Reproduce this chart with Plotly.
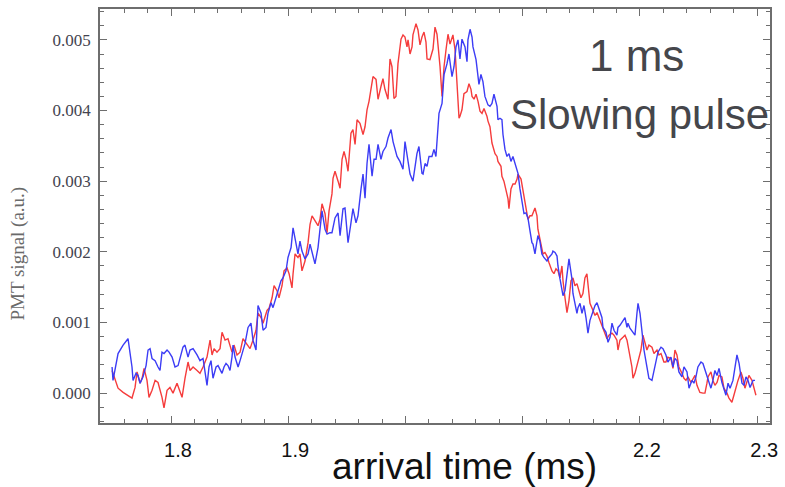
import plotly.graph_objects as go

# ---- data (arrival time in ms, PMT signal in a.u.) ----
blue_time = [1.7497,1.7505,1.7548,1.7591,1.7633,1.7650,1.7667,1.7676,1.7701,1.7718,1.7736,1.7761,1.7787,1.7804,1.7821,1.7838,1.7864,1.7889,1.7906,1.7923,1.7940,1.7966,1.7983,1.8009,1.8034,1.8060,1.8077,1.8102,1.8119,1.8136,1.8145,1.8162,1.8188,1.8222,1.8247,1.8273,1.8307,1.8324,1.8341,1.8358,1.8384,1.8401,1.8435,1.8452,1.8469,1.8486,1.8503,1.8520,1.8529,1.8546,1.8572,1.8589,1.8606,1.8631,1.8657,1.8682,1.8699,1.8725,1.8742,1.8768,1.8785,1.8810,1.8827,1.8853,1.8870,1.8896,1.8913,1.8938,1.8955,1.8981,1.8998,1.9024,1.9041,1.9066,1.9083,1.9100,1.9117,1.9143,1.9169,1.9186,1.9203,1.9228,1.9254,1.9271,1.9288,1.9314,1.9331,1.9356,1.9373,1.9399,1.9425,1.9442,1.9459,1.9467,1.9484,1.9501,1.9510,1.9535,1.9552,1.9578,1.9595,1.9621,1.9638,1.9655,1.9672,1.9689,1.9715,1.9732,1.9749,1.9766,1.9791,1.9808,1.9834,1.9851,1.9877,1.9894,1.9911,1.9928,1.9953,1.9979,1.9996,2.0013,2.0039,2.0064,2.0081,2.0098,2.0115,2.0141,2.0150,2.0167,2.0184,2.0201,2.0226,2.0243,2.0260,2.0277,2.0286,2.0312,2.0329,2.0354,2.0371,2.0397,2.0414,2.0431,2.0448,2.0465,2.0482,2.0508,2.0525,2.0533,2.0551,2.0568,2.0576,2.0602,2.0619,2.0627,2.0644,2.0661,2.0678,2.0704,2.0721,2.0738,2.0755,2.0781,2.0789,2.0806,2.0823,2.0832,2.0849,2.0866,2.0883,2.0900,2.0917,2.0935,2.0952,2.0960,2.0977,2.0994,2.1011,2.1028,2.1045,2.1062,2.1079,2.1088,2.1105,2.1113,2.1130,2.1147,2.1164,2.1181,2.1207,2.1224,2.1250,2.1258,2.1276,2.1293,2.1301,2.1318,2.1335,2.1344,2.1361,2.1378,2.1395,2.1420,2.1429,2.1446,2.1463,2.1472,2.1489,2.1506,2.1523,2.1540,2.1557,2.1574,2.1600,2.1617,2.1634,2.1659,2.1676,2.1685,2.1711,2.1728,2.1745,2.1762,2.1779,2.1804,2.1813,2.1830,2.1856,2.1873,2.1890,2.1898,2.1915,2.1941,2.1958,2.1975,2.1984,2.2001,2.2018,2.2035,2.2060,2.2077,2.2103,2.2120,2.2137,2.2154,2.2180,2.2197,2.2222,2.2239,2.2265,2.2282,2.2299,2.2316,2.2333,2.2359,2.2376,2.2402,2.2419,2.2444,2.2461,2.2478,2.2495,2.2521,2.2538,2.2564,2.2581,2.2606,2.2623,2.2640,2.2658,2.2675,2.2700,2.2717,2.2734,2.2752,2.2769,2.2794,2.2811,2.2828,2.2846,2.2871,2.2888,2.2905,2.2922,2.2940,2.2965,2.2982]
blue_signal = [0.00037,0.00018,0.00056,0.00068,0.00077,0.00056,0.00037,0.00018,0.00028,0.00025,0.00014,0.00023,0.00039,0.00061,0.00063,0.00049,0.00046,0.00037,0.00032,0.00058,0.00056,0.00061,0.00058,0.00051,0.00037,0.00039,0.00051,0.00065,0.00068,0.00056,0.00051,0.00061,0.00063,0.00054,0.00046,0.00049,0.00011,0.00037,0.00046,0.00021,0.00037,0.00039,0.00028,0.00037,0.00042,0.00039,0.00032,0.00051,0.00068,0.00051,0.00037,0.00046,0.00056,0.00070,0.00093,0.00099,0.00075,0.00061,0.00124,0.00113,0.00089,0.00093,0.00113,0.00128,0.00121,0.00135,0.00142,0.00159,0.00163,0.00173,0.00192,0.00206,0.00234,0.00211,0.00197,0.00215,0.00201,0.00190,0.00197,0.00211,0.00201,0.00183,0.00206,0.00237,0.00258,0.00232,0.00225,0.00227,0.00227,0.00248,0.00255,0.00223,0.00254,0.00261,0.00262,0.00232,0.00213,0.00241,0.00261,0.00241,0.00251,0.00289,0.00310,0.00276,0.00325,0.00352,0.00307,0.00331,0.00331,0.00352,0.00331,0.00342,0.00349,0.00361,0.00373,0.00356,0.00345,0.00335,0.00328,0.00317,0.00356,0.00335,0.00310,0.00300,0.00317,0.00339,0.00349,0.00311,0.00310,0.00325,0.00321,0.00335,0.00335,0.00345,0.00335,0.00373,0.00396,0.00410,0.00451,0.00466,0.00480,0.00448,0.00462,0.00490,0.00500,0.00473,0.00501,0.00490,0.00469,0.00500,0.00515,0.00504,0.00490,0.00472,0.00444,0.00437,0.00451,0.00441,0.00420,0.00408,0.00406,0.00410,0.00423,0.00406,0.00387,0.00389,0.00387,0.00366,0.00345,0.00335,0.00339,0.00328,0.00335,0.00324,0.00317,0.00311,0.00289,0.00272,0.00254,0.00255,0.00248,0.00230,0.00213,0.00211,0.00197,0.00206,0.00223,0.00215,0.00197,0.00192,0.00187,0.00192,0.00197,0.00201,0.00199,0.00194,0.00180,0.00162,0.00149,0.00138,0.00145,0.00169,0.00190,0.00162,0.00141,0.00127,0.00113,0.00121,0.00127,0.00113,0.00124,0.00107,0.00085,0.00103,0.00117,0.00124,0.00128,0.00114,0.00107,0.00093,0.00086,0.00072,0.00079,0.00099,0.00089,0.00082,0.00093,0.00096,0.00103,0.00107,0.00093,0.00099,0.00092,0.00085,0.00082,0.00113,0.00127,0.00113,0.00085,0.00061,0.00037,0.00021,0.00018,0.00030,0.00046,0.00058,0.00065,0.00063,0.00054,0.00044,0.00051,0.00037,0.00049,0.00046,0.00030,0.00023,0.00037,0.00030,0.00007,0.00018,0.00014,0.00023,0.00037,0.00044,0.00042,0.00028,0.00018,0.00007,0.00018,0.00032,0.00025,0.00035,0.00015,0.00004,-0.00003,0.00014,0.00007,0.00018,0.00039,0.00054,0.00042,0.00014,0.00011,0.00023,0.00018,0.00008,0.00018,0.00018]

red_time = [1.7497,1.7522,1.7548,1.7591,1.7633,1.7667,1.7693,1.7710,1.7718,1.7736,1.7753,1.7770,1.7795,1.7812,1.7838,1.7864,1.7889,1.7923,1.7940,1.7966,1.7991,1.8017,1.8051,1.8077,1.8094,1.8119,1.8145,1.8162,1.8188,1.8222,1.8247,1.8273,1.8307,1.8333,1.8350,1.8367,1.8392,1.8418,1.8435,1.8461,1.8486,1.8520,1.8537,1.8563,1.8589,1.8614,1.8648,1.8674,1.8699,1.8725,1.8742,1.8768,1.8785,1.8819,1.8836,1.8862,1.8879,1.8904,1.8921,1.8947,1.8964,1.8990,1.9007,1.9032,1.9041,1.9058,1.9083,1.9100,1.9117,1.9143,1.9169,1.9186,1.9203,1.9228,1.9254,1.9271,1.9288,1.9314,1.9331,1.9348,1.9373,1.9382,1.9399,1.9425,1.9442,1.9459,1.9476,1.9493,1.9510,1.9535,1.9552,1.9570,1.9587,1.9612,1.9638,1.9655,1.9672,1.9689,1.9715,1.9723,1.9749,1.9766,1.9791,1.9808,1.9825,1.9851,1.9868,1.9885,1.9902,1.9919,1.9936,1.9962,1.9979,1.9996,2.0013,2.0022,2.0039,2.0056,2.0064,2.0090,2.0107,2.0124,2.0141,2.0158,2.0175,2.0184,2.0209,2.0235,2.0252,2.0269,2.0277,2.0295,2.0312,2.0329,2.0346,2.0363,2.0380,2.0405,2.0423,2.0440,2.0457,2.0465,2.0482,2.0499,2.0525,2.0542,2.0559,2.0568,2.0585,2.0602,2.0619,2.0636,2.0653,2.0670,2.0695,2.0704,2.0721,2.0738,2.0747,2.0764,2.0781,2.0789,2.0815,2.0823,2.0840,2.0858,2.0875,2.0883,2.0900,2.0917,2.0935,2.0952,2.0960,2.0986,2.1003,2.1020,2.1045,2.1062,2.1079,2.1105,2.1122,2.1130,2.1156,2.1173,2.1190,2.1207,2.1224,2.1250,2.1267,2.1284,2.1301,2.1318,2.1335,2.1344,2.1361,2.1378,2.1395,2.1412,2.1429,2.1446,2.1463,2.1480,2.1497,2.1514,2.1531,2.1548,2.1557,2.1574,2.1600,2.1617,2.1634,2.1659,2.1685,2.1702,2.1719,2.1736,2.1762,2.1779,2.1804,2.1813,2.1830,2.1856,2.1873,2.1890,2.1907,2.1932,2.1941,2.1958,2.1975,2.1984,2.2009,2.2026,2.2043,2.2060,2.2077,2.2103,2.2120,2.2146,2.2163,2.2180,2.2205,2.2222,2.2239,2.2265,2.2282,2.2299,2.2316,2.2333,2.2359,2.2376,2.2393,2.2410,2.2436,2.2453,2.2470,2.2487,2.2512,2.2538,2.2555,2.2572,2.2581,2.2606,2.2623,2.2640,2.2658,2.2675,2.2700,2.2717,2.2743,2.2760,2.2785,2.2802,2.2819,2.2837,2.2862,2.2879,2.2896,2.2913,2.2930,2.2956,2.2973,2.2990]
red_signal = [0.00032,0.00018,0.00007,0.00001,-0.00004,-0.00007,0.00008,0.00030,0.00025,0.00014,0.00021,0.00035,0.00018,-0.00006,0.00004,0.00018,0.00015,-0.00006,-0.00021,0.00004,0.00008,0.00000,0.00014,0.00000,-0.00006,0.00021,0.00044,0.00032,0.00037,0.00032,0.00028,0.00037,0.00051,0.00075,0.00054,0.00063,0.00058,0.00063,0.00086,0.00075,0.00077,0.00058,0.00068,0.00054,0.00058,0.00077,0.00068,0.00063,0.00075,0.00089,0.00113,0.00107,0.00099,0.00117,0.00120,0.00135,0.00152,0.00145,0.00135,0.00152,0.00173,0.00177,0.00169,0.00149,0.00169,0.00197,0.00192,0.00197,0.00173,0.00187,0.00213,0.00239,0.00251,0.00244,0.00237,0.00246,0.00268,0.00254,0.00227,0.00258,0.00282,0.00304,0.00314,0.00300,0.00290,0.00331,0.00342,0.00331,0.00314,0.00368,0.00373,0.00352,0.00387,0.00382,0.00366,0.00377,0.00401,0.00413,0.00444,0.00448,0.00444,0.00416,0.00434,0.00445,0.00430,0.00416,0.00473,0.00462,0.00417,0.00420,0.00466,0.00501,0.00507,0.00504,0.00490,0.00500,0.00480,0.00490,0.00507,0.00523,0.00514,0.00493,0.00504,0.00511,0.00497,0.00473,0.00472,0.00487,0.00518,0.00508,0.00494,0.00462,0.00420,0.00462,0.00486,0.00508,0.00494,0.00507,0.00486,0.00438,0.00389,0.00392,0.00401,0.00424,0.00427,0.00438,0.00430,0.00420,0.00416,0.00423,0.00413,0.00399,0.00396,0.00403,0.00392,0.00385,0.00377,0.00354,0.00349,0.00339,0.00335,0.00328,0.00321,0.00307,0.00300,0.00289,0.00275,0.00261,0.00289,0.00296,0.00296,0.00303,0.00310,0.00303,0.00286,0.00269,0.00246,0.00251,0.00251,0.00262,0.00251,0.00232,0.00208,0.00197,0.00199,0.00194,0.00185,0.00173,0.00169,0.00176,0.00173,0.00163,0.00180,0.00159,0.00135,0.00114,0.00131,0.00159,0.00163,0.00152,0.00155,0.00145,0.00135,0.00141,0.00163,0.00169,0.00155,0.00127,0.00117,0.00110,0.00114,0.00103,0.00092,0.00082,0.00077,0.00082,0.00085,0.00082,0.00075,0.00061,0.00075,0.00079,0.00082,0.00075,0.00061,0.00037,0.00021,0.00028,0.00039,0.00044,0.00061,0.00082,0.00070,0.00061,0.00068,0.00065,0.00056,0.00061,0.00054,0.00056,0.00044,0.00044,0.00051,0.00049,0.00035,0.00061,0.00054,0.00037,0.00028,0.00021,0.00018,0.00023,0.00015,0.00021,0.00025,0.00011,0.00001,0.00000,0.00000,0.00014,0.00023,0.00030,0.00018,0.00011,0.00015,0.00025,0.00023,0.00007,0.00000,-0.00007,-0.00013,-0.00003,0.00008,0.00018,0.00030,0.00021,0.00007,0.00018,0.00025,0.00018,0.00008,-0.00003]

x_tick_values = [1.8, 1.9, 2.0, 2.1, 2.2, 2.3]
x_tick_labels = ["1.8", "1.9", "", "", "2.2", "2.3"]
y_tick_values = [0.000, 0.001, 0.002, 0.003, 0.004, 0.005]
y_tick_labels = ["0.000", "0.001", "0.002", "0.003", "0.004", "0.005"]

fig = go.Figure()
fig.add_trace(go.Scatter(x=red_time, y=red_signal, mode="lines",
                         line=dict(color="rgb(245,60,60)", width=1.4), showlegend=False))
fig.add_trace(go.Scatter(x=blue_time, y=blue_signal, mode="lines",
                         line=dict(color="rgb(60,60,245)", width=1.4), showlegend=False))

frame = "#6e6e6e"
fig.update_xaxes(range=[1.7394, 2.311], tickvals=x_tick_values, ticktext=x_tick_labels,
                 ticks="inside", ticklen=7, tickwidth=1, tickcolor=frame,
                 showline=True, linecolor=frame, linewidth=1.5, mirror="ticks",
                 showgrid=False, zeroline=False,
                 minor=dict(dtick=0.02, tick0=1.8, ticks="inside", ticklen=4, tickcolor=frame, showgrid=False),
                 tickfont=dict(family="Liberation Sans, Arial", size=20, color="#111111"),
                 ticklabelstandoff=8, ticklabelshift=7)
fig.update_yaxes(range=[-0.000423, 0.005437], tickvals=y_tick_values, ticktext=y_tick_labels,
                 ticks="inside", ticklen=7, tickwidth=1, tickcolor=frame,
                 showline=True, linecolor=frame, linewidth=1.5, mirror="ticks",
                 showgrid=False, zeroline=False,
                 minor=dict(dtick=0.0002, tick0=0, ticks="inside", ticklen=4, tickcolor=frame, showgrid=False),
                 tickfont=dict(family="Liberation Serif, Times New Roman, serif", size=17, color="#44444f"),
                 ticklabelstandoff=4)

fig.update_layout(
    width=785, height=487,
    margin=dict(l=100, r=15, t=7, b=64),
    paper_bgcolor="white", plot_bgcolor="white",
    annotations=[
        dict(text="PMT signal (a.u.)", textangle=-90, xref="paper", yref="paper",
             x=-0.122, y=0.41, xanchor="center", yanchor="middle", showarrow=False,
             font=dict(family="Liberation Serif, Times New Roman, serif", size=19, color="#6a6a6a")),
        dict(text="1 ms", xref="paper", yref="paper", x=0.80, y=0.888,
             xanchor="center", yanchor="middle", showarrow=False,
             font=dict(family="Liberation Sans, Arial", size=44, color="#45464b")),
        dict(text="Slowing pulse", xref="paper", yref="paper", x=0.805, y=0.745,
             xanchor="center", yanchor="middle", showarrow=False,
             font=dict(family="Liberation Sans, Arial", size=42, color="#45464b")),
        dict(text="arrival time (ms)", xref="paper", yref="paper", x=0.544, y=-0.105,
             xanchor="center", yanchor="middle", showarrow=False,
             font=dict(family="Liberation Sans, Arial", size=37, color="#111111")),
    ],
)

fig.write_html("out.html")
